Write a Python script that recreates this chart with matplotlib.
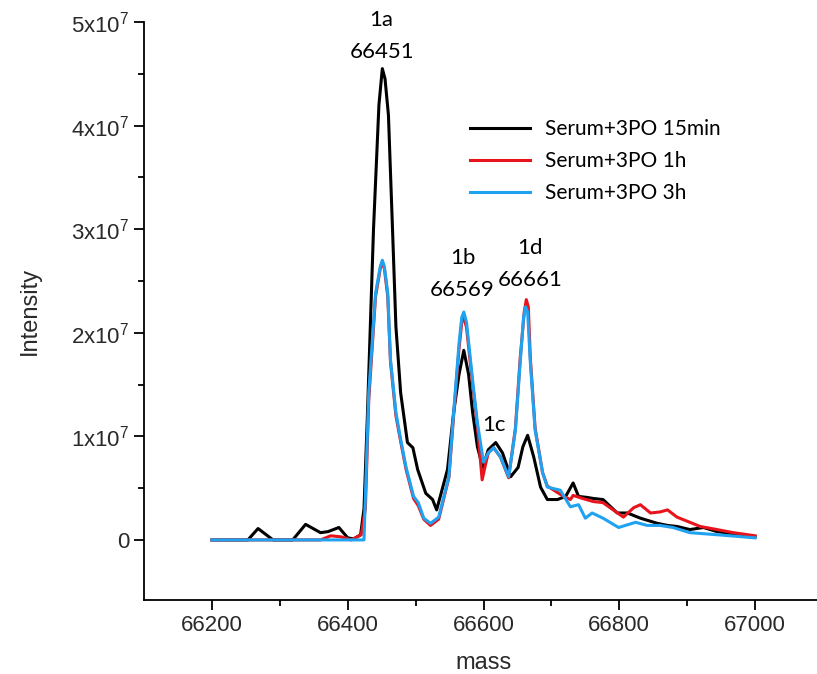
import matplotlib.pyplot as plt
from matplotlib.ticker import FixedLocator

# traced spectra (intensity in units of 1e7)
mass_black = [66200, 66253, 66268, 66290, 66319, 66338, 66360, 66371, 66387, 66400, 66409, 66419,
              66424, 66429, 66438, 66446, 66451, 66455, 66460, 66466, 66471, 66478, 66488, 66496,
              66503, 66515, 66525, 66531, 66547, 66556, 66564, 66571, 66578, 66584, 66591, 66599,
              66607, 66618, 66628, 66640, 66651, 66658, 66665, 66674, 66684, 66694, 66709, 66721,
              66732, 66740, 66753, 66762, 66776, 66797, 66812, 66831, 66856, 66871, 66885, 66904,
              66924, 66944, 66968, 67000]
int_black = [0, 0, 0.11, 0, 0, 0.15, 0.07, 0.08, 0.12, 0.02, 0.01, 0.05,
             0.3, 1.2, 3.0, 4.2, 4.55, 4.45, 4.1, 3.0, 2.06, 1.42, 0.94, 0.89,
             0.68, 0.45, 0.39, 0.29, 0.68, 1.23, 1.6, 1.83, 1.6, 1.23, 0.9, 0.70,
             0.87, 0.94, 0.84, 0.61, 0.70, 0.9, 1.01, 0.80, 0.51, 0.39, 0.39, 0.42,
             0.55, 0.42, 0.41, 0.40, 0.39, 0.26, 0.26, 0.21, 0.16, 0.14, 0.13, 0.10,
             0.12, 0.08, 0.06, 0.03]

mass_red = [66200, 66360, 66375, 66390, 66405, 66420, 66426, 66431, 66441, 66448, 66451, 66454,
            66459, 66463, 66471, 66478, 66486, 66497, 66504, 66512, 66522, 66534, 66549, 66556,
            66564, 66568, 66571, 66575, 66584, 66591, 66598, 66602, 66607, 66615, 66625, 66637,
            66647, 66654, 66660, 66663, 66666, 66669, 66676, 66687, 66694, 66718, 66728, 66732,
            66746, 66762, 66776, 66791, 66806, 66821, 66831, 66846, 66860, 66871, 66885, 66904,
            66919, 66944, 66968, 67000]
int_red = [0, 0, 0.04, 0.03, 0, 0.05, 0.3, 1.35, 2.35, 2.62, 2.68, 2.62,
           2.35, 1.72, 1.2, 0.95, 0.68, 0.4, 0.33, 0.2, 0.14, 0.2, 0.6, 1.2,
           1.85, 2.1, 2.15, 2.05, 1.5, 1.1, 0.58, 0.7, 0.84, 0.89, 0.80, 0.6,
           1.08, 1.75, 2.2, 2.32, 2.25, 1.75, 1.08, 0.65, 0.52, 0.42, 0.39, 0.43,
           0.40, 0.37, 0.36, 0.29, 0.22, 0.31, 0.34, 0.26, 0.27, 0.29, 0.22, 0.17,
           0.13, 0.10, 0.07, 0.04]

mass_blue = [66200, 66424, 66431, 66441, 66448, 66451, 66454, 66459, 66463, 66471, 66478, 66486,
             66497, 66504, 66512, 66522, 66534, 66549, 66556, 66564, 66568, 66571, 66575, 66584,
             66591, 66600, 66607, 66615, 66625, 66637, 66647, 66654, 66659, 66662, 66665, 66669,
             66676, 66687, 66694, 66713, 66728, 66740, 66750, 66760, 66776, 66799, 66824, 66841,
             66860, 66879, 66904, 66944, 67000]
int_blue = [0, 0, 1.42, 2.38, 2.64, 2.70, 2.64, 2.38, 1.74, 1.23, 0.97, 0.7,
            0.42, 0.36, 0.21, 0.16, 0.22, 0.61, 1.23, 1.9, 2.15, 2.2, 2.1, 1.54,
            1.13, 0.75, 0.84, 0.89, 0.80, 0.61, 1.06, 1.71, 2.15, 2.25, 2.2, 1.71,
            1.06, 0.65, 0.51, 0.48, 0.32, 0.34, 0.21, 0.26, 0.21, 0.12, 0.17, 0.14,
            0.14, 0.12, 0.07, 0.05, 0.02]

labels = ["Serum+3PO 15min", "Serum+3PO 1h", "Serum+3PO 3h"]
colors = ["black", "#e8141c", "#1fa2f0"]

peak_names = ["1a", "1b", "1c", "1d"]
peak_mass = ["66451", "66569", "", "66661"]
peak_x = [66450, 66569, 66615, 66669]
peak_y = [5.02, 2.72, 1.11, 2.82]

fig = plt.figure(figsize=(8.17, 6.74), dpi=100)
ax = fig.add_axes([144/817, 74/674, 679/817, 578/674])

scale = 1e7
ax.plot(mass_black, [v*scale for v in int_black], color=colors[0], lw=2.2, label=labels[0], zorder=3)
ax.plot(mass_red, [v*scale for v in int_red], color=colors[1], lw=2.2, label=labels[1], zorder=4)
ax.plot(mass_blue, [v*scale for v in int_blue], color=colors[2], lw=2.2, label=labels[2], zorder=5)

ax.set_xlim(66100, 67100)
ax.set_ylim(-0.58e7, 5.0e7)

ax.spines["top"].set_visible(False)
ax.spines["right"].set_visible(False)
ax.spines["left"].set_linewidth(1.3)
ax.spines["bottom"].set_linewidth(1.3)

ax.xaxis.set_major_locator(FixedLocator([66200, 66400, 66600, 66800, 67000]))
ax.xaxis.set_minor_locator(FixedLocator([66300, 66500, 66700, 66900]))
ax.yaxis.set_major_locator(FixedLocator([0, 1e7, 2e7, 3e7, 4e7, 5e7]))
ax.yaxis.set_minor_locator(FixedLocator([0.5e7, 1.5e7, 2.5e7, 3.5e7, 4.5e7]))
ax.set_yticklabels(["0"] + [r"$\mathregular{%dx10^7}$" % i for i in range(1, 6)])

ax.tick_params(which="major", length=7, width=1.3, labelsize=16, labelcolor="#2a2a2a")
ax.tick_params(which="minor", length=4, width=1.3)
for t in ax.get_xticklabels() + ax.get_yticklabels():
    t.set_family("Liberation Sans")

ax.set_xlabel("mass", fontsize=17, family="Liberation Sans", color="#2a2a2a", labelpad=12)
ax.set_ylabel("Intensity", fontsize=17, family="Liberation Sans", color="#2a2a2a", labelpad=22)

for name, m, px, py in zip(peak_names, peak_mass, peak_x, peak_y):
    ax.text(px, py*scale, name, ha="center", va="center", fontsize=16, family="Lato")
    if m:
        ax.text(px, (py - 0.31)*scale, m, ha="center", va="center", fontsize=16, family="Lato")

ax.legend(loc="upper left", bbox_to_anchor=(470/817, 1 - 119/674), bbox_transform=fig.transFigure,
          frameon=False, borderpad=0, borderaxespad=0, handlelength=2.9, handletextpad=0.7,
          labelspacing=0.58, prop={"family": "Lato", "size": 15})

fig.savefig("out.png", dpi=100)
